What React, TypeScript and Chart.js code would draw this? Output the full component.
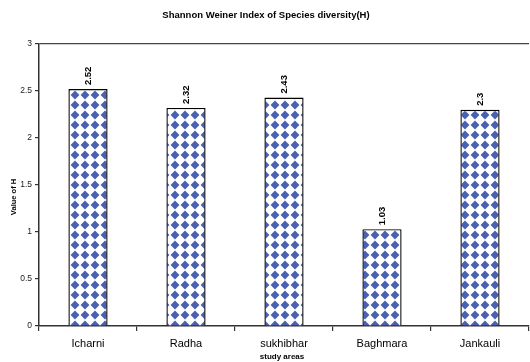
import React, { useEffect, useRef } from "react";
import { Chart, registerables } from "chart.js";
Chart.register(...registerables);

const categories = ["Icharni", "Radha", "sukhibhar", "Baghmara", "Jankauli"];
const values = [2.52, 2.32, 2.43, 1.03, 2.3];
const valueLabels = ["2.52", "2.32", "2.43", "1.03", "2.3"];
const chartTitle = "Shannon Weiner Index of Species diversity(H)";
const xTitle = "study areas";
const yTitle = "Value of H";

const FONT = "'Liberation Sans', Arial, sans-serif";

function makePattern(): CanvasPattern | string {
  const c = document.createElement("canvas");
  c.width = 10;
  c.height = 10;
  const g = c.getContext("2d");
  if (!g) return "#4a60b0";
  g.fillStyle = "#ffffff";
  g.fillRect(0, 0, 10, 10);
  g.fillStyle = "#4a60b0";
  g.beginPath();
  g.moveTo(5, 0.6);
  g.lineTo(9.4, 5);
  g.lineTo(5, 9.4);
  g.lineTo(0.6, 5);
  g.closePath();
  g.fill();
  const p = g.createPattern(c, "repeat");
  return p || "#4a60b0";
}

export default function App() {
  const ref = useRef<HTMLCanvasElement>(null);
  useEffect(() => {
    document.body.style.margin = "0";
    const canvas = ref.current!;
    const pattern = makePattern();
    const textPlugin = {
      id: "texts",
      afterDatasetsDraw(chart: any) {
        const ctx = chart.ctx;
        const meta = chart.getDatasetMeta(0);
        ctx.save();
        ctx.fillStyle = "#000";
        ctx.font = `bold 9.5px ${FONT}`;
        ctx.textAlign = "left";
        ctx.textBaseline = "middle";
        meta.data.forEach((el: any, i: number) => {
          ctx.save();
          ctx.translate(el.x, el.y - 4);
          ctx.rotate(-Math.PI / 2);
          ctx.fillText(valueLabels[i], 0, 0);
          ctx.restore();
        });
        ctx.restore();
      },
      afterDraw(chart: any) {
        const ctx = chart.ctx;
        ctx.save();
        ctx.fillStyle = "#000";
        ctx.textAlign = "center";
        ctx.textBaseline = "middle";
        ctx.font = `bold 9.5px ${FONT}`;
        ctx.fillText(chartTitle, 266, 15);
        ctx.font = `bold 8px ${FONT}`;
        ctx.fillText(xTitle, 282, 357);
        ctx.translate(14, 197);
        ctx.rotate(-Math.PI / 2);
        ctx.font = `bold 7.5px ${FONT}`;
        ctx.fillText(yTitle, 0, 0);
        ctx.restore();
      },
    };
    const chart = new Chart(canvas, {
      type: "bar",
      data: {
        labels: categories,
        datasets: [
          {
            data: values,
            backgroundColor: pattern as any,
            borderColor: "#000",
            borderWidth: 1.4,
            barPercentage: 0.8,
            categoryPercentage: 0.5,
          },
        ],
      },
      options: {
        animation: false,
        responsive: false,
        devicePixelRatio: 1,
        layout: { padding: { top: 44, right: 1, left: 0, bottom: 0 } },
        plugins: {
          legend: { display: false },
          title: { display: false },
          tooltip: { enabled: false },
        },
        scales: {
          x: {
            afterFit(scale: any) {
              scale.height = 36;
            },
            grid: {
              offset: true,
              drawOnChartArea: false,
              drawTicks: true,
              tickLength: 5,
              tickColor: "#333",
              lineWidth: 1.2,
            },
            border: { color: "#333", width: 1.5 },
            ticks: {
              color: "#000",
              font: { family: FONT, size: 11 },
              padding: 6,
              maxRotation: 0,
            },
          },
          y: {
            min: 0,
            max: 3,
            afterFit(scale: any) {
              scale.width = 39;
            },
            grid: {
              drawOnChartArea: true,
              color: (c: any) => (c.tick && c.tick.value === 3 ? "#444" : "rgba(0,0,0,0)"),
              lineWidth: 1.2,
              drawTicks: true,
              tickLength: 4,
              tickColor: "#333",
            },
            border: { color: "#333", width: 1.5 },
            ticks: {
              stepSize: 0.5,
              color: "#222",
              font: { family: FONT, size: 8.5 },
              padding: 3,
              callback: (v: any) => String(Number(v)),
            },
          },
        },
      },
      plugins: [textPlugin],
    });
    return () => chart.destroy();
  }, []);
  return (
    <div style={{ position: "fixed", left: 0, top: 0, width: 530, height: 362, background: "#fff" }}>
      <canvas ref={ref} width={530} height={362} style={{ width: 530, height: 362 }} />
    </div>
  );
}
